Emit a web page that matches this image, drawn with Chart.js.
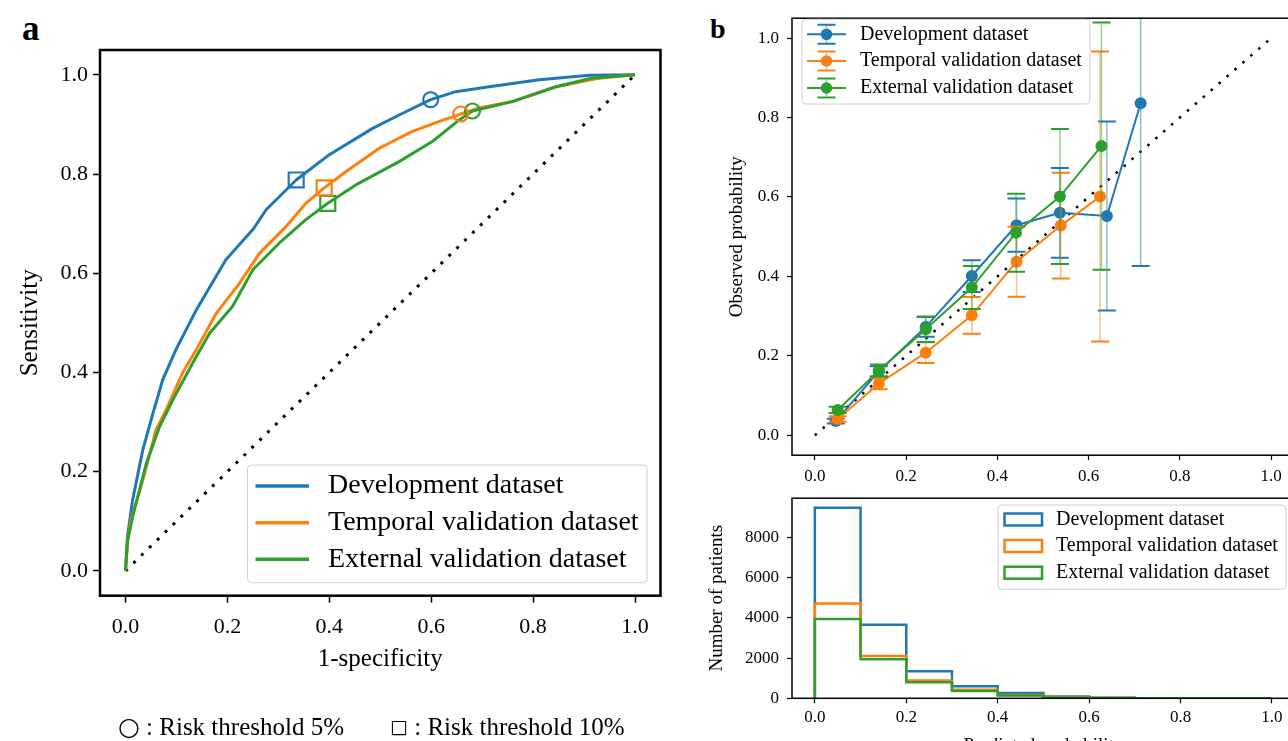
<!DOCTYPE html>
<html>
<head>
<meta charset="utf-8">
<title>ROC, calibration and risk distribution</title>
<script src="https://cdn.jsdelivr.net/npm/chart.js@4.4.0/dist/chart.umd.min.js"></script>
<style>
  html, body { margin: 0; padding: 0; background: #fff; overflow: hidden; }
  body { position: relative; width: 1288px; height: 741px; font-family: "Liberation Serif", "DejaVu Serif", serif; color: #000; }
  canvas { position: absolute; }
  #roc { left: 0; top: 0; }
  #calib { left: 700px; top: 0; }
  #hist { left: 700px; top: 480px; }
  .panel { position: absolute; font-weight: bold; line-height: 1; }
  .note { position: absolute; top: 714px; font-size: 25px; line-height: 1; white-space: nowrap; }
  .sym { font-family: "DejaVu Sans", sans-serif; }
</style>
</head>
<body>
<div class="panel" style="left:22px;top:11px;font-size:35px">a</div>
<div class="panel" style="left:710px;top:15px;font-size:28px">b</div>
<canvas id="roc" width="680" height="741"></canvas>
<canvas id="calib" width="600" height="490"></canvas>
<canvas id="hist" width="600" height="300"></canvas>
<div class="note" style="left:118px"><span class="sym">○</span> : Risk threshold 5%</div>
<div class="note" style="left:390px"><span class="sym" style="font-size:19px;position:relative;top:-2px">□</span> : Risk threshold 10%</div>
<script>
var SERIF = '"Liberation Serif", "DejaVu Serif", serif';
var BLUE = '#1f77b4', ORANGE = '#ff7f0e', GREEN = '#2ca02c';

var seriesNames = ['Development dataset', 'Temporal validation dataset', 'External validation dataset'];
var unitTicks = [0, 0.2, 0.4, 0.6, 0.8, 1.0];
var countTicks = [0, 2000, 4000, 6000, 8000];

// panel a - ROC curves (1-specificity, sensitivity)
var devFpr = [0, 0.004, 0.014, 0.034, 0.054, 0.073, 0.099, 0.139, 0.197, 0.25, 0.276, 0.335, 0.40, 0.485, 0.537, 0.599, 0.648, 0.714, 0.812, 0.91, 1.0];
var devTpr = [0, 0.07, 0.143, 0.244, 0.318, 0.385, 0.446, 0.526, 0.627, 0.688, 0.728, 0.788, 0.839, 0.892, 0.919, 0.950, 0.966, 0.976, 0.990, 0.999, 1.0];
var tempFpr = [0, 0.004, 0.011, 0.034, 0.060, 0.080, 0.112, 0.139, 0.178, 0.224, 0.263, 0.315, 0.354, 0.390, 0.433, 0.498, 0.563, 0.616, 0.658, 0.694, 0.759, 0.845, 0.929, 1.0];
var tempTpr = [0, 0.06, 0.103, 0.183, 0.284, 0.325, 0.399, 0.446, 0.519, 0.580, 0.640, 0.694, 0.741, 0.772, 0.805, 0.852, 0.886, 0.906, 0.921, 0.933, 0.946, 0.976, 0.993, 1.0];
var extFpr = [0, 0.004, 0.014, 0.041, 0.067, 0.093, 0.132, 0.165, 0.210, 0.250, 0.302, 0.354, 0.397, 0.452, 0.537, 0.603, 0.655, 0.681, 0.759, 0.845, 0.914, 1.0];
var extTpr = [0, 0.06, 0.109, 0.217, 0.291, 0.345, 0.419, 0.479, 0.533, 0.607, 0.661, 0.708, 0.741, 0.778, 0.825, 0.866, 0.909, 0.927, 0.946, 0.976, 0.993, 1.0];
// threshold markers: dev, temporal, external
var thr5Fpr = [0.599, 0.658, 0.681];
var thr5Tpr = [0.950, 0.921, 0.927];
var thr10Fpr = [0.335, 0.390, 0.397];
var thr10Tpr = [0.788, 0.772, 0.741];
var diagX = [0, 1];

// panel b top - calibration (predicted vs observed, 95% CI half width)
var calDevX = [0.046, 0.140, 0.243, 0.344, 0.442, 0.537, 0.640, 0.714];
var calDevY = [0.036, 0.161, 0.273, 0.401, 0.529, 0.560, 0.552, 0.836];
var calDevErr = [0.006, 0.013, 0.025, 0.040, 0.067, 0.113, 0.238, 0.410];
var calTempX = [0.050, 0.140, 0.243, 0.344, 0.442, 0.539, 0.625];
var calTempY = [0.041, 0.130, 0.208, 0.302, 0.437, 0.528, 0.601];
var calTempErr = [0.007, 0.014, 0.026, 0.046, 0.088, 0.133, 0.365];
var calExtX = [0.050, 0.141, 0.243, 0.344, 0.441, 0.537, 0.628];
var calExtY = [0.064, 0.163, 0.267, 0.372, 0.510, 0.601, 0.728];
var calExtErr = [0.008, 0.015, 0.032, 0.054, 0.098, 0.170, 0.311];

// panel b bottom - number of patients per predicted probability bin
var binEdges = [0, 0.1, 0.2, 0.3, 0.4, 0.5, 0.6, 0.7, 0.8, 0.9, 1.0];
var histDev = [9470, 3650, 1350, 600, 260, 90, 25, 5, 0, 0];
var histTemp = [4710, 2100, 880, 430, 170, 60, 10, 0, 0, 0];
var histExt = [3940, 1940, 800, 360, 140, 45, 12, 0, 0, 0];

Chart.defaults.font.family = SERIF;
Chart.defaults.color = '#000';

function pts(xs, ys) {
  return xs.map(function (x, i) { return { x: x, y: ys[i] }; });
}

function stepPts(counts) {
  var out = [{ x: binEdges[0], y: 0 }];
  counts.forEach(function (c, i) { out.push({ x: binEdges[i], y: c }); });
  out.push({ x: binEdges[binEdges.length - 1], y: counts[counts.length - 1] });
  out.push({ x: binEdges[binEdges.length - 1], y: 0 });
  return out;
}

function axis(cfg) {
  return {
    type: 'linear',
    min: cfg.min,
    max: cfg.max,
    afterBuildTicks: function (s) { s.ticks = cfg.ticks.map(function (v) { return { value: v }; }); },
    afterFit: function (s) { if (s.isHorizontal()) s.height = cfg.size; else s.width = cfg.size; },
    grid: { drawOnChartArea: false, drawTicks: true, tickLength: cfg.tickLength, tickWidth: cfg.tickWidth, tickColor: '#000' },
    border: { display: false },
    ticks: {
      autoSkip: false, maxRotation: 0, padding: cfg.pad, color: '#000',
      font: { family: SERIF, size: cfg.fontSize },
      callback: cfg.fmt
    },
    title: cfg.title ? {
      display: true, text: cfg.title, color: '#000',
      font: { family: SERIF, size: cfg.titleSize },
      padding: cfg.titlePad
    } : { display: false }
  };
}

function oneDec(v) { return Number(v).toFixed(1); }
function plain(v) { return String(v); }

var framePlugin = {
  id: 'frame',
  afterDatasetsDraw: function (chart, args, opts) {
    var a = chart.chartArea, ctx = chart.ctx;
    ctx.save();
    ctx.strokeStyle = '#000';
    ctx.lineWidth = opts.width;
    ctx.strokeRect(a.left, a.top, a.right - a.left, a.bottom - a.top);
    ctx.restore();
  }
};

var errorBarPlugin = {
  id: 'errorBars',
  beforeDatasetDraw: function (chart, args, opts) {
    var ds = chart.data.datasets[args.index];
    if (!ds.errors) return;
    var ctx = chart.ctx, a = chart.chartArea;
    var xs = chart.scales.x, ys = chart.scales.y;
    ctx.save();
    ctx.beginPath();
    ctx.rect(a.left, a.top, a.right - a.left, a.bottom - a.top);
    ctx.clip();
    ctx.strokeStyle = ds.borderColor;
    ds.data.forEach(function (p, i) {
      var px = xs.getPixelForValue(p.x);
      var top = ys.getPixelForValue(p.y + ds.errors[i]);
      var bot = ys.getPixelForValue(p.y - ds.errors[i]);
      ctx.globalAlpha = 0.5;
      ctx.lineWidth = 1.5;
      ctx.beginPath();
      ctx.moveTo(px, top); ctx.lineTo(px, bot);
      ctx.stroke();
      ctx.globalAlpha = 1;
      ctx.lineWidth = 2;
      ctx.beginPath();
      ctx.moveTo(px - opts.cap, top); ctx.lineTo(px + opts.cap, top);
      ctx.moveTo(px - opts.cap, bot); ctx.lineTo(px + opts.cap, bot);
      ctx.stroke();
    });
    ctx.restore();
  }
};

// matplotlib style legend box drawn inside the plot
var boxLegendPlugin = {
  id: 'boxLegend',
  afterDraw: function (chart, args, o) {
    var ctx = chart.ctx, b = o.box;
    var items = chart.data.datasets.filter(function (d) { return d.label; });
    ctx.save();
    ctx.beginPath();
    if (ctx.roundRect) ctx.roundRect(b[0], b[1], b[2] - b[0], b[3] - b[1], 4);
    else ctx.rect(b[0], b[1], b[2] - b[0], b[3] - b[1]);
    ctx.fillStyle = 'rgba(255,255,255,0.8)';
    ctx.fill();
    ctx.strokeStyle = '#d0d0d0';
    ctx.lineWidth = 1;
    ctx.stroke();
    items.forEach(function (d, i) {
      var y = o.rows[i], c = d.borderColor;
      ctx.strokeStyle = c;
      ctx.fillStyle = c;
      if (o.kind === 'line') {
        ctx.lineWidth = 3.5;
        ctx.beginPath(); ctx.moveTo(o.iconX[0], y); ctx.lineTo(o.iconX[1], y); ctx.stroke();
      } else if (o.kind === 'errbar') {
        var mx = (o.iconX[0] + o.iconX[1]) / 2;
        ctx.lineWidth = 2;
        ctx.beginPath(); ctx.moveTo(o.iconX[0], y); ctx.lineTo(o.iconX[1], y); ctx.stroke();
        ctx.globalAlpha = 0.5; ctx.lineWidth = 1.5;
        ctx.beginPath(); ctx.moveTo(mx, y - 9.5); ctx.lineTo(mx, y + 9.5); ctx.stroke();
        ctx.globalAlpha = 1; ctx.lineWidth = 2;
        ctx.beginPath();
        ctx.moveTo(mx - 9, y - 9.5); ctx.lineTo(mx + 9, y - 9.5);
        ctx.moveTo(mx - 9, y + 9.5); ctx.lineTo(mx + 9, y + 9.5);
        ctx.stroke();
        ctx.beginPath(); ctx.arc(mx, y, 5.8, 0, Math.PI * 2); ctx.fill();
      } else {
        ctx.lineWidth = 2.5;
        ctx.strokeRect(o.iconX[0], y - 6, o.iconX[1] - o.iconX[0], 12);
      }
      ctx.fillStyle = '#000';
      ctx.font = o.fontSize + 'px ' + SERIF;
      ctx.textBaseline = 'middle';
      ctx.textAlign = 'left';
      ctx.fillText(d.label, o.textX, y);
    });
    ctx.restore();
  }
};

function rocLine(label, xs, ys, color, order) {
  return { label: label, data: pts(xs, ys), showLine: true, borderColor: color, borderWidth: 3,
           pointRadius: 0, borderJoinStyle: 'round', order: order };
}
function rocMarks(i, color) {
  return { data: pts([thr5Fpr[i], thr10Fpr[i]], [thr5Tpr[i], thr10Tpr[i]]),
           pointStyle: ['circle', 'rect'], pointRadius: [7.5, 10.6],
           pointBorderColor: color, pointBackgroundColor: 'rgba(0,0,0,0)', pointBorderWidth: 2.2,
           borderColor: color, showLine: false, order: 0 };
}

new Chart(document.getElementById('roc'), {
  type: 'scatter',
  data: {
    datasets: [
      rocLine(seriesNames[0], devFpr, devTpr, BLUE, 3),
      rocLine(seriesNames[1], tempFpr, tempTpr, ORANGE, 2),
      rocLine(seriesNames[2], extFpr, extTpr, GREEN, 1),
      rocMarks(0, BLUE), rocMarks(1, ORANGE), rocMarks(2, GREEN),
      { data: pts(diagX, diagX), showLine: true, borderColor: '#000', borderWidth: 3,
        borderDash: [3, 8], pointRadius: 0, order: 9 }
    ]
  },
  options: {
    responsive: false, animation: false, events: [],
    layout: { padding: { left: 0, top: 50, right: 19.5, bottom: 67 } },
    plugins: {
      legend: { display: false }, tooltip: { enabled: false },
      frame: { width: 2.5 },
      boxLegend: { kind: 'line', box: [247.5, 465, 647, 582.7], rows: [486, 522.7, 559.3],
                   iconX: [255.5, 309], textX: 328, fontSize: 28 }
    },
    scales: {
      x: axis({ min: -0.05, max: 1.05, ticks: unitTicks, fmt: oneDec, size: 78.3, tickLength: 7, tickWidth: 1.5,
                pad: 11, fontSize: 22, title: '1-specificity', titleSize: 25, titlePad: { top: 0, bottom: 0 } }),
      y: axis({ min: -0.05, max: 1.05, ticks: unitTicks, fmt: oneDec, size: 100, tickLength: 7, tickWidth: 1.5,
                pad: 5, fontSize: 22, title: 'Sensitivity', titleSize: 25, titlePad: { top: 15, bottom: 0 } })
    }
  },
  plugins: [framePlugin, boxLegendPlugin]
});

function calLine(label, xs, ys, errs, color, order) {
  return { label: label, data: pts(xs, ys), errors: errs, showLine: true, borderColor: color, borderWidth: 2,
           pointRadius: 6, pointBackgroundColor: color, pointBorderWidth: 0, order: order };
}

new Chart(document.getElementById('calib'), {
  type: 'scatter',
  data: {
    datasets: [
      calLine(seriesNames[0], calDevX, calDevY, calDevErr, BLUE, 3),
      calLine(seriesNames[1], calTempX, calTempY, calTempErr, ORANGE, 2),
      calLine(seriesNames[2], calExtX, calExtY, calExtErr, GREEN, 1),
      { data: pts(diagX, diagX), showLine: true, borderColor: '#000', borderWidth: 2.5,
        borderDash: [2.5, 8], pointRadius: 0, order: 9 }
    ]
  },
  options: {
    responsive: false, animation: false, events: [],
    layout: { padding: { left: 0, top: 10, right: 5.2, bottom: 0 } },
    plugins: {
      legend: { display: false }, tooltip: { enabled: false },
      frame: { width: 1.5 },
      errorBars: { cap: 9 },
      boxLegend: { kind: 'errbar', box: [102, 19.3, 390, 104], rows: [34.3, 61, 88],
                   iconX: [107, 146], textX: 160, fontSize: 20 }
    },
    scales: {
      x: axis({ min: -0.05, max: 1.05, ticks: unitTicks, fmt: oneDec, size: 34.8, tickLength: 5, tickWidth: 1.2,
                pad: 6, fontSize: 17 }),
      y: axis({ min: -0.05, max: 1.05, ticks: unitTicks, fmt: oneDec, size: 92, tickLength: 5, tickWidth: 1.2,
                pad: 8, fontSize: 17, title: 'Observed probability', titleSize: 19, titlePad: { top: 25.6, bottom: 0 } })
    }
  },
  plugins: [framePlugin, errorBarPlugin, boxLegendPlugin]
});

function histLine(label, counts, color, order) {
  return { label: label, data: stepPts(counts), showLine: true, stepped: 'before', borderColor: color,
           borderWidth: 2.5, pointRadius: 0, fill: false, order: order };
}

var histMax = Math.max.apply(null, histDev.concat(histTemp, histExt)) * 1.05;

new Chart(document.getElementById('hist'), {
  type: 'scatter',
  data: {
    datasets: [
      histLine(seriesNames[0], histDev, BLUE, 3),
      histLine(seriesNames[1], histTemp, ORANGE, 2),
      histLine(seriesNames[2], histExt, GREEN, 1)
    ]
  },
  options: {
    responsive: false, animation: false, events: [],
    layout: { padding: { left: 0, top: 15, right: 5.2, bottom: 22.6 } },
    plugins: {
      legend: { display: false }, tooltip: { enabled: false },
      frame: { width: 1.5 },
      boxLegend: { kind: 'rect', box: [298, 25, 586, 109.3], rows: [39.5, 66, 92.7],
                   iconX: [304.5, 342], textX: 356, fontSize: 20 }
    },
    scales: {
      x: axis({ min: -0.05, max: 1.05, ticks: unitTicks, fmt: oneDec, size: 59.1, tickLength: 5, tickWidth: 1.2,
                pad: 4.5, fontSize: 17, title: 'Predicted probability', titleSize: 19, titlePad: { top: 0, bottom: 0 } }),
      y: axis({ min: 0, max: histMax, ticks: countTicks, fmt: plain, size: 92, tickLength: 5, tickWidth: 1.2,
                pad: 8, fontSize: 17, title: 'Number of patients', titleSize: 19, titlePad: { top: 5.6, bottom: 0 } })
    }
  },
  plugins: [framePlugin, boxLegendPlugin]
});
</script>
</body>
</html>
